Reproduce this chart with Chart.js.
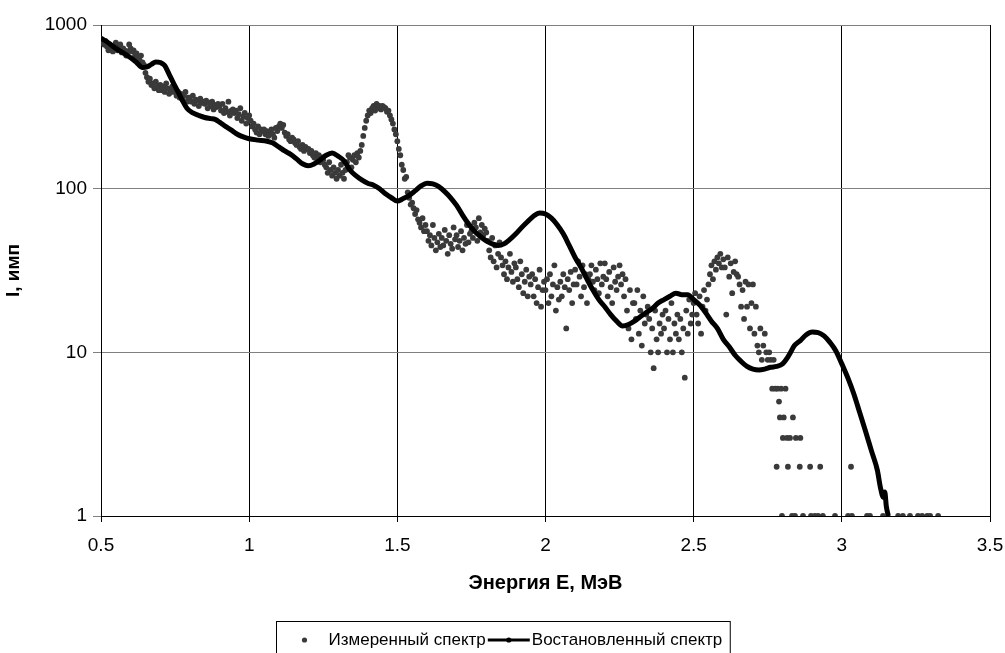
<!DOCTYPE html>
<html>
<head>
<meta charset="utf-8">
<script src="https://cdn.jsdelivr.net/npm/chart.js@4.4.1/dist/chart.umd.min.js"></script>
<style>
  html, body { margin: 0; padding: 0; background: #fff; }
  #wrap { width: 1005px; height: 653px; }
</style>
</head>
<body>
<div id="wrap"><canvas id="spectrum" width="1005" height="653"></canvas></div>
<script>
// Энергии каналов (МэВ) и измеренные отсчёты
const measuredE = [
  0.5,0.505,0.51,0.515,0.52,0.525,0.53,0.535,0.54,0.545,
  0.55,0.555,0.56,0.565,0.57,0.575,0.58,0.585,0.59,0.595,
  0.6,0.605,0.61,0.615,0.62,0.625,0.63,0.635,0.64,0.645,
  0.65,0.655,0.66,0.665,0.67,0.675,0.68,0.685,0.69,0.695,
  0.7,0.705,0.71,0.715,0.72,0.725,0.73,0.735,0.74,0.745,
  0.75,0.755,0.76,0.765,0.77,0.775,0.78,0.785,0.79,0.795,
  0.8,0.805,0.81,0.815,0.82,0.825,0.83,0.835,0.84,0.845,
  0.85,0.855,0.86,0.865,0.87,0.875,0.88,0.885,0.89,0.895,
  0.9,0.905,0.91,0.915,0.92,0.925,0.93,0.935,0.94,0.945,
  0.95,0.955,0.96,0.965,0.97,0.975,0.98,0.985,0.99,0.995,
  1,1.005,1.01,1.015,1.02,1.025,1.03,1.035,1.04,1.045,
  1.05,1.055,1.06,1.065,1.07,1.075,1.08,1.085,1.09,1.095,
  1.1,1.105,1.11,1.115,1.12,1.125,1.13,1.135,1.14,1.145,
  1.15,1.155,1.16,1.165,1.17,1.175,1.18,1.185,1.19,1.195,
  1.2,1.205,1.21,1.215,1.22,1.225,1.23,1.235,1.24,1.245,
  1.25,1.255,1.26,1.265,1.27,1.275,1.28,1.285,1.29,1.295,
  1.3,1.305,1.31,1.315,1.32,1.325,1.33,1.335,1.34,1.345,
  1.35,1.355,1.36,1.365,1.37,1.375,1.38,1.385,1.39,1.395,
  1.4,1.405,1.41,1.415,1.42,1.425,1.43,1.435,1.44,1.445,
  1.45,1.455,1.46,1.465,1.47,1.475,1.48,1.485,1.49,1.495,
  1.5,1.505,1.51,1.515,1.52,1.525,1.53,1.535,1.54,1.545,
  1.55,1.555,1.56,1.565,1.57,1.575,1.58,1.585,1.59,1.595,
  1.6,1.605,1.61,1.615,1.62,1.625,1.63,1.635,1.64,1.645,
  1.65,1.655,1.66,1.665,1.67,1.675,1.68,1.685,1.69,1.695,
  1.7,1.705,1.71,1.715,1.72,1.725,1.73,1.735,1.74,1.745,
  1.75,1.755,1.76,1.765,1.77,1.775,1.78,1.785,1.79,1.795,
  1.8,1.805,1.81,1.815,1.82,1.825,1.83,1.835,1.84,1.845,
  1.85,1.855,1.86,1.865,1.87,1.875,1.88,1.885,1.89,1.895,
  1.9,1.905,1.91,1.915,1.92,1.925,1.93,1.935,1.94,1.945,
  1.95,1.955,1.96,1.965,1.97,1.975,1.98,1.985,1.99,1.995,
  2,2.005,2.01,2.015,2.02,2.025,2.03,2.035,2.04,2.045,
  2.05,2.055,2.06,2.065,2.07,2.075,2.08,2.085,2.09,2.095,
  2.1,2.105,2.11,2.115,2.12,2.125,2.13,2.135,2.14,2.145,
  2.15,2.155,2.16,2.165,2.17,2.175,2.18,2.185,2.19,2.195,
  2.2,2.205,2.21,2.215,2.22,2.225,2.23,2.235,2.24,2.245,
  2.25,2.255,2.26,2.265,2.27,2.275,2.28,2.285,2.29,2.295,
  2.3,2.305,2.31,2.315,2.32,2.325,2.33,2.335,2.34,2.345,
  2.35,2.355,2.36,2.365,2.37,2.375,2.38,2.385,2.39,2.395,
  2.4,2.405,2.41,2.415,2.42,2.425,2.43,2.435,2.44,2.445,
  2.45,2.455,2.46,2.465,2.47,2.475,2.48,2.485,2.49,2.495,
  2.5,2.505,2.51,2.515,2.52,2.525,2.53,2.535,2.54,2.545,
  2.55,2.555,2.56,2.565,2.57,2.575,2.58,2.585,2.59,2.595,
  2.6,2.605,2.61,2.615,2.62,2.625,2.63,2.635,2.64,2.645,
  2.65,2.655,2.66,2.665,2.67,2.675,2.68,2.685,2.69,2.695,
  2.7,2.705,2.71,2.715,2.72,2.725,2.73,2.735,2.74,2.745,
  2.75,2.755,2.76,2.765,2.77,2.775,2.78,2.783,2.788,2.791,
  2.795,2.798,2.801,2.804,2.81,2.815,2.818,2.825,2.832,2.835,
  2.842,2.845,2.858,2.86,2.869,2.893,2.896,2.909,2.92,2.927,
  2.936,2.977,3.021,3.031,3.034,3.085,3.095,3.139,3.19,3.206,
  3.23,3.257,3.271,3.288,3.298,3.325
];
const measuredI = [
  820,790,760,800,740,700,760,720,690,740,
  780,700,740,760,680,720,700,650,690,760,
  720,690,700,650,670,630,610,650,590,570,
  510,480,450,470,430,440,410,450,420,400,
  430,400,420,390,440,410,380,400,420,390,
  400,370,390,360,380,350,370,390,340,360,
  360,340,370,330,350,345,320,355,335,340,
  330,345,310,335,320,340,305,325,315,330,
  320,300,330,290,310,295,340,280,300,305,
  290,300,270,285,310,260,275,290,250,270,
  280,260,240,250,230,220,240,215,230,225,
  230,215,225,210,220,230,215,205,235,225,
  240,250,235,245,220,210,215,200,195,205,
  200,190,185,195,180,175,185,170,180,175,
  175,165,170,160,155,165,150,160,145,155,
  150,140,135,125,145,130,120,135,125,115,
  130,120,140,125,115,130,145,160,155,135,
  150,160,145,165,155,170,185,210,235,260,
  280,300,290,310,320,300,330,310,320,305,
  320,315,310,295,300,280,265,250,230,215,
  195,175,160,140,130,115,118,95,88,80,
  82,76,70,74,65,62,58,66,55,60,
  55,48,52,45,60,50,42,47,53,44,
  50,45,56,48,40,52,46,43,58,49,
  52,44,48,55,42,50,46,60,47,53,
  55,50,62,58,48,66,54,60,52,57,
  54,48,42,38,50,36,45,33,40,47,
  38,34,30,36,28,33,40,31,27,35,
  33,28,25,36,30,23,27,32,22,29,
  26,30,22,28,20,25,32,19,24,27,
  24,28,20,30,22,26,34,18,25,21,
  27,22,30,25,14,28,24,31,20,26,
  32,26,36,29,22,34,25,30,20,28,
  30,34,27,24,32,28,23,35,26,29,
  35,28,22,31,25,20,33,27,24,29,
  34,26,30,22,28,18,14,24,12,20,
  20,16,24,13,18,11,22,15,17,19,
  16,10,14,8,18,12,10,15,13,17,
  14,18,10,16,12,20,10,15,13,17,
  12,16,10,14,7,18,13,21,15,17,
  20,23,17,15,22,13,19,24,18,21,
  26,30,34,28,36,32,38,35,40,33,
  37,33,17,38,29,35,23,31,36,30,
  29,26,19,24,16,27,19,26,14,20,
  26,13,19,11,10,14,9,11,13,10,
  9,10,9,6,9,6,2,6,5,4,
  6,1,3,4,6,3,2,3,1,4,
  1,3,2,3,1,2,1,1,1,2,
  1,1,1,2,1,1,1,1,1,1,
  1,1,1,1,1,1
];

// Восстановленный спектр
const restoredE = [
  0.5,0.52,0.55,0.575,0.6,0.62,0.64,0.655,0.67,0.685,
  0.7,0.715,0.73,0.745,0.76,0.775,0.79,0.81,0.83,0.85,
  0.87,0.885,0.9,0.92,0.94,0.96,0.98,1,1.03,1.06,
  1.08,1.1,1.12,1.14,1.16,1.18,1.2,1.22,1.24,1.26,
  1.28,1.3,1.32,1.34,1.36,1.38,1.4,1.42,1.44,1.46,
  1.48,1.5,1.52,1.54,1.56,1.58,1.6,1.62,1.64,1.66,
  1.68,1.7,1.72,1.74,1.76,1.78,1.8,1.82,1.84,1.86,
  1.88,1.9,1.92,1.94,1.96,1.98,2,2.02,2.04,2.06,
  2.08,2.1,2.12,2.14,2.16,2.18,2.2,2.22,2.24,2.26,
  2.28,2.3,2.32,2.34,2.36,2.38,2.4,2.42,2.44,2.46,
  2.48,2.5,2.52,2.54,2.56,2.58,2.6,2.62,2.64,2.66,
  2.68,2.7,2.72,2.74,2.76,2.78,2.8,2.82,2.84,2.86,
  2.88,2.9,2.92,2.94,2.96,2.98,3,3.02,3.04,3.06,
  3.08,3.1,3.12,3.13,3.14,3.145,3.15,3.157
];
const restoredI = [
  830,790,720,675,630,590,550,555,575,595,
  590,565,500,440,390,345,310,290,280,272,
  268,265,255,240,228,215,207,202,198,195,
  190,180,170,162,152,142,138,142,150,160,
  165,158,148,130,120,113,108,105,100,93,
  88,84,87,91,97,104,108,107,103,96,
  88,79,69,61,55,51,48,46,45,46,
  49,53,58,63,68,71,70,66,60,53,
  45,38,33,28,24,21,19,17,15.5,14.5,
  14.8,15.5,16.5,17.5,18.5,20,21,22,23,22.5,
  22.5,21,19.5,17.5,15.5,14,12,10.8,9.6,8.8,
  8.2,7.9,7.8,7.9,8.1,8.2,8.5,9.5,11,11.8,
  12.8,13.3,13.2,12.6,11.5,10.2,8.5,7,5.6,4.3,
  3.3,2.5,1.9,1.5,1.3,1.4,1.15,1
];

const xTicks = [0.5, 1, 1.5, 2, 2.5, 3, 3.5];
const yTicks = [1, 10, 100, 1000];
const seriesNames = ['Измеренный спектр', 'Востановленный спектр'];

const FONT = "'Liberation Sans', Arial, sans-serif";
Chart.defaults.font.family = FONT;
Chart.defaults.color = '#000';

const toPoints = (xs, ys) => xs.map((x, i) => ({ x: x, y: ys[i] }));

// рамка с легендой под осью, как в Excel
const boxedLegend = {
  id: 'boxedLegend',
  afterDraw(chart) {
    const ctx = chart.ctx;
    ctx.save();
    ctx.font = '17px ' + FONT;
    const w1 = ctx.measureText(seriesNames[0]).width;
    const w2 = ctx.measureText(seriesNames[1]).width;
    const total = 52 + w1 + 2 + 42 + 2 + w2 + 8;
    const left = Math.round(chart.width / 2 - total / 2) + 0.5;
    const top = 621.5;
    const cy = 640;
    ctx.strokeStyle = '#000';
    ctx.lineWidth = 1;
    ctx.strokeRect(left, top, total, 40);
    ctx.fillStyle = '#3a3a3a';
    ctx.beginPath();
    ctx.arc(left + 28, cy, 2.6, 0, Math.PI * 2);
    ctx.fill();
    ctx.fillStyle = '#000';
    ctx.textBaseline = 'middle';
    ctx.fillText(seriesNames[0], left + 52, cy);
    const lx = left + 52 + w1 + 2;
    ctx.strokeStyle = '#000';
    ctx.lineWidth = 3;
    ctx.beginPath();
    ctx.moveTo(lx, cy);
    ctx.lineTo(lx + 42, cy);
    ctx.stroke();
    ctx.beginPath();
    ctx.arc(lx + 21, cy, 2.6, 0, Math.PI * 2);
    ctx.fill();
    ctx.fillText(seriesNames[1], lx + 44, cy);
    ctx.restore();
  }
};

new Chart(document.getElementById('spectrum'), {
  type: 'scatter',
  data: {
    datasets: [
      {
        label: seriesNames[0],
        data: toPoints(measuredE, measuredI),
        showLine: false,
        pointRadius: 2.9,
        pointBackgroundColor: '#3a3a3a',
        pointBorderWidth: 0,
        order: 1
      },
      {
        label: seriesNames[1],
        data: toPoints(restoredE, restoredI),
        showLine: true,
        borderColor: '#000',
        borderWidth: 5,
        pointRadius: 1.5,
        pointBackgroundColor: '#000',
        pointBorderWidth: 0,
        cubicInterpolationMode: 'monotone',
        order: 0
      }
    ]
  },
  options: {
    responsive: false,
    animation: false,
    layout: { padding: { top: 25, right: 15, left: 0, bottom: 0 } },
    plugins: {
      legend: { display: false },
      tooltip: { enabled: false }
    },
    scales: {
      x: {
        type: 'linear',
        min: 0.5,
        max: 3.5,
        afterBuildTicks: s => { s.ticks = xTicks.map(v => ({ value: v })); },
        afterFit: s => { s.height = 137; s.paddingLeft = 0; s.paddingRight = 0; },
        ticks: {
          callback: v => String(v),
          font: { size: 19 },
          color: '#000',
          padding: 12,
          maxRotation: 0,
          autoSkip: false
        },
        grid: { color: '#000', tickLength: 6 },
        border: { color: '#000' },
        title: {
          display: true,
          text: 'Энергия Е, МэВ',
          font: { size: 20, weight: 'bold' },
          color: '#000',
          padding: { top: 0, bottom: 58 }
        }
      },
      y: {
        type: 'logarithmic',
        min: 1,
        max: 1000,
        afterBuildTicks: s => { s.ticks = yTicks.map(v => ({ value: v })); },
        afterFit: s => { s.width = 101; },
        ticks: {
          callback: v => String(v),
          font: { size: 19 },
          color: '#000',
          padding: 6
        },
        grid: { color: '#808080', tickLength: 8 },
        border: { color: '#000' },
        title: {
          display: true,
          text: 'I, имп',
          font: { size: 19, weight: 'bold' },
          color: '#000',
          padding: { top: 2, bottom: 0 }
        }
      }
    }
  },
  plugins: [boxedLegend]
});
</script>
</body>
</html>
